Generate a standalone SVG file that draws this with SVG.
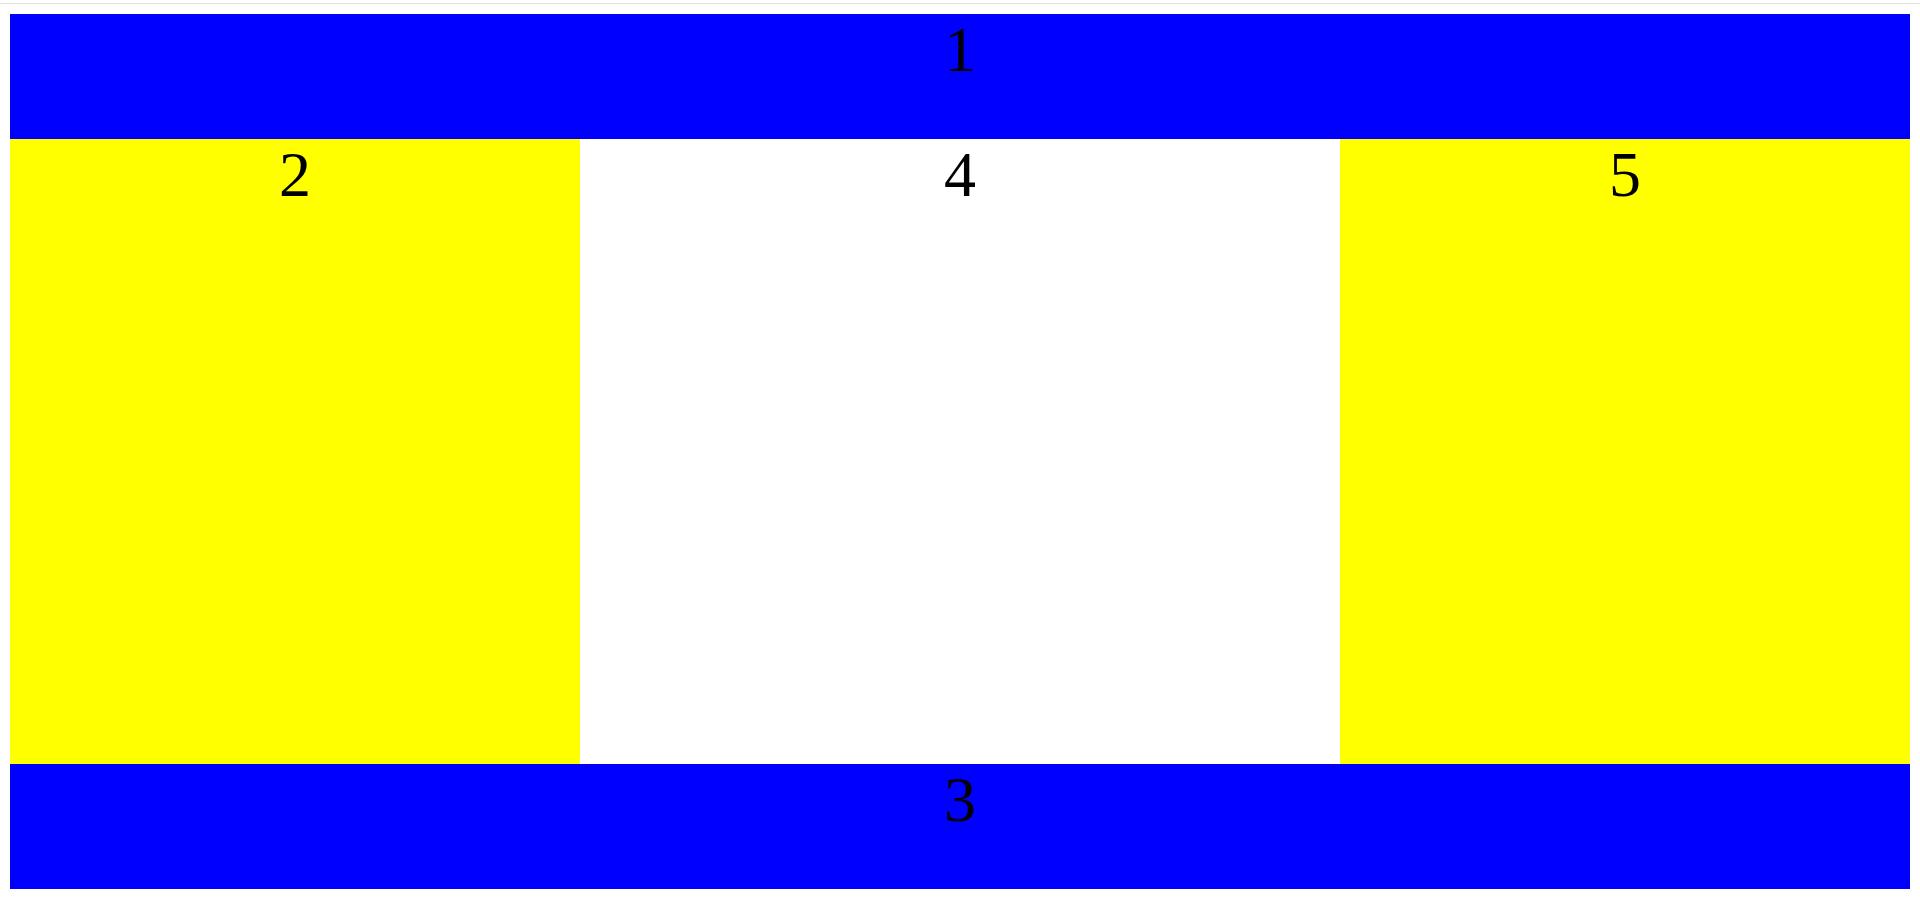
<svg xmlns="http://www.w3.org/2000/svg" width="1920" height="897" viewBox="0 0 1920 897">
<style>
.blue{fill:#0000ff}
.yellow{fill:#ffff00}
.white{fill:#ffffff}
.lbl{font-family:"Liberation Serif","Times New Roman",serif;font-size:64px;fill:#000;text-anchor:middle}
</style>
<rect x="0" y="0" width="1920" height="897" fill="#ffffff"/>
<line x1="0" y1="3.5" x2="1920" y2="3.5" stroke="#e0e0e0" stroke-width="1"/>
<g id="n1"><rect class="blue" x="10" y="14" width="1900" height="125"/><text class="lbl" x="960" y="71">1</text></g>
<g id="n2"><rect class="yellow" x="10" y="139" width="570" height="625"/><text class="lbl" x="295" y="196">2</text></g>
<g id="n4"><rect class="white" x="580" y="139" width="760" height="625"/><text class="lbl" x="960" y="196">4</text></g>
<g id="n5"><rect class="yellow" x="1340" y="139" width="570" height="625"/><text class="lbl" x="1625" y="196">5</text></g>
<g id="n3"><rect class="blue" x="10" y="764" width="1900" height="125"/><text class="lbl" x="960" y="821">3</text></g>
<g id="connectors"></g>
</svg>
